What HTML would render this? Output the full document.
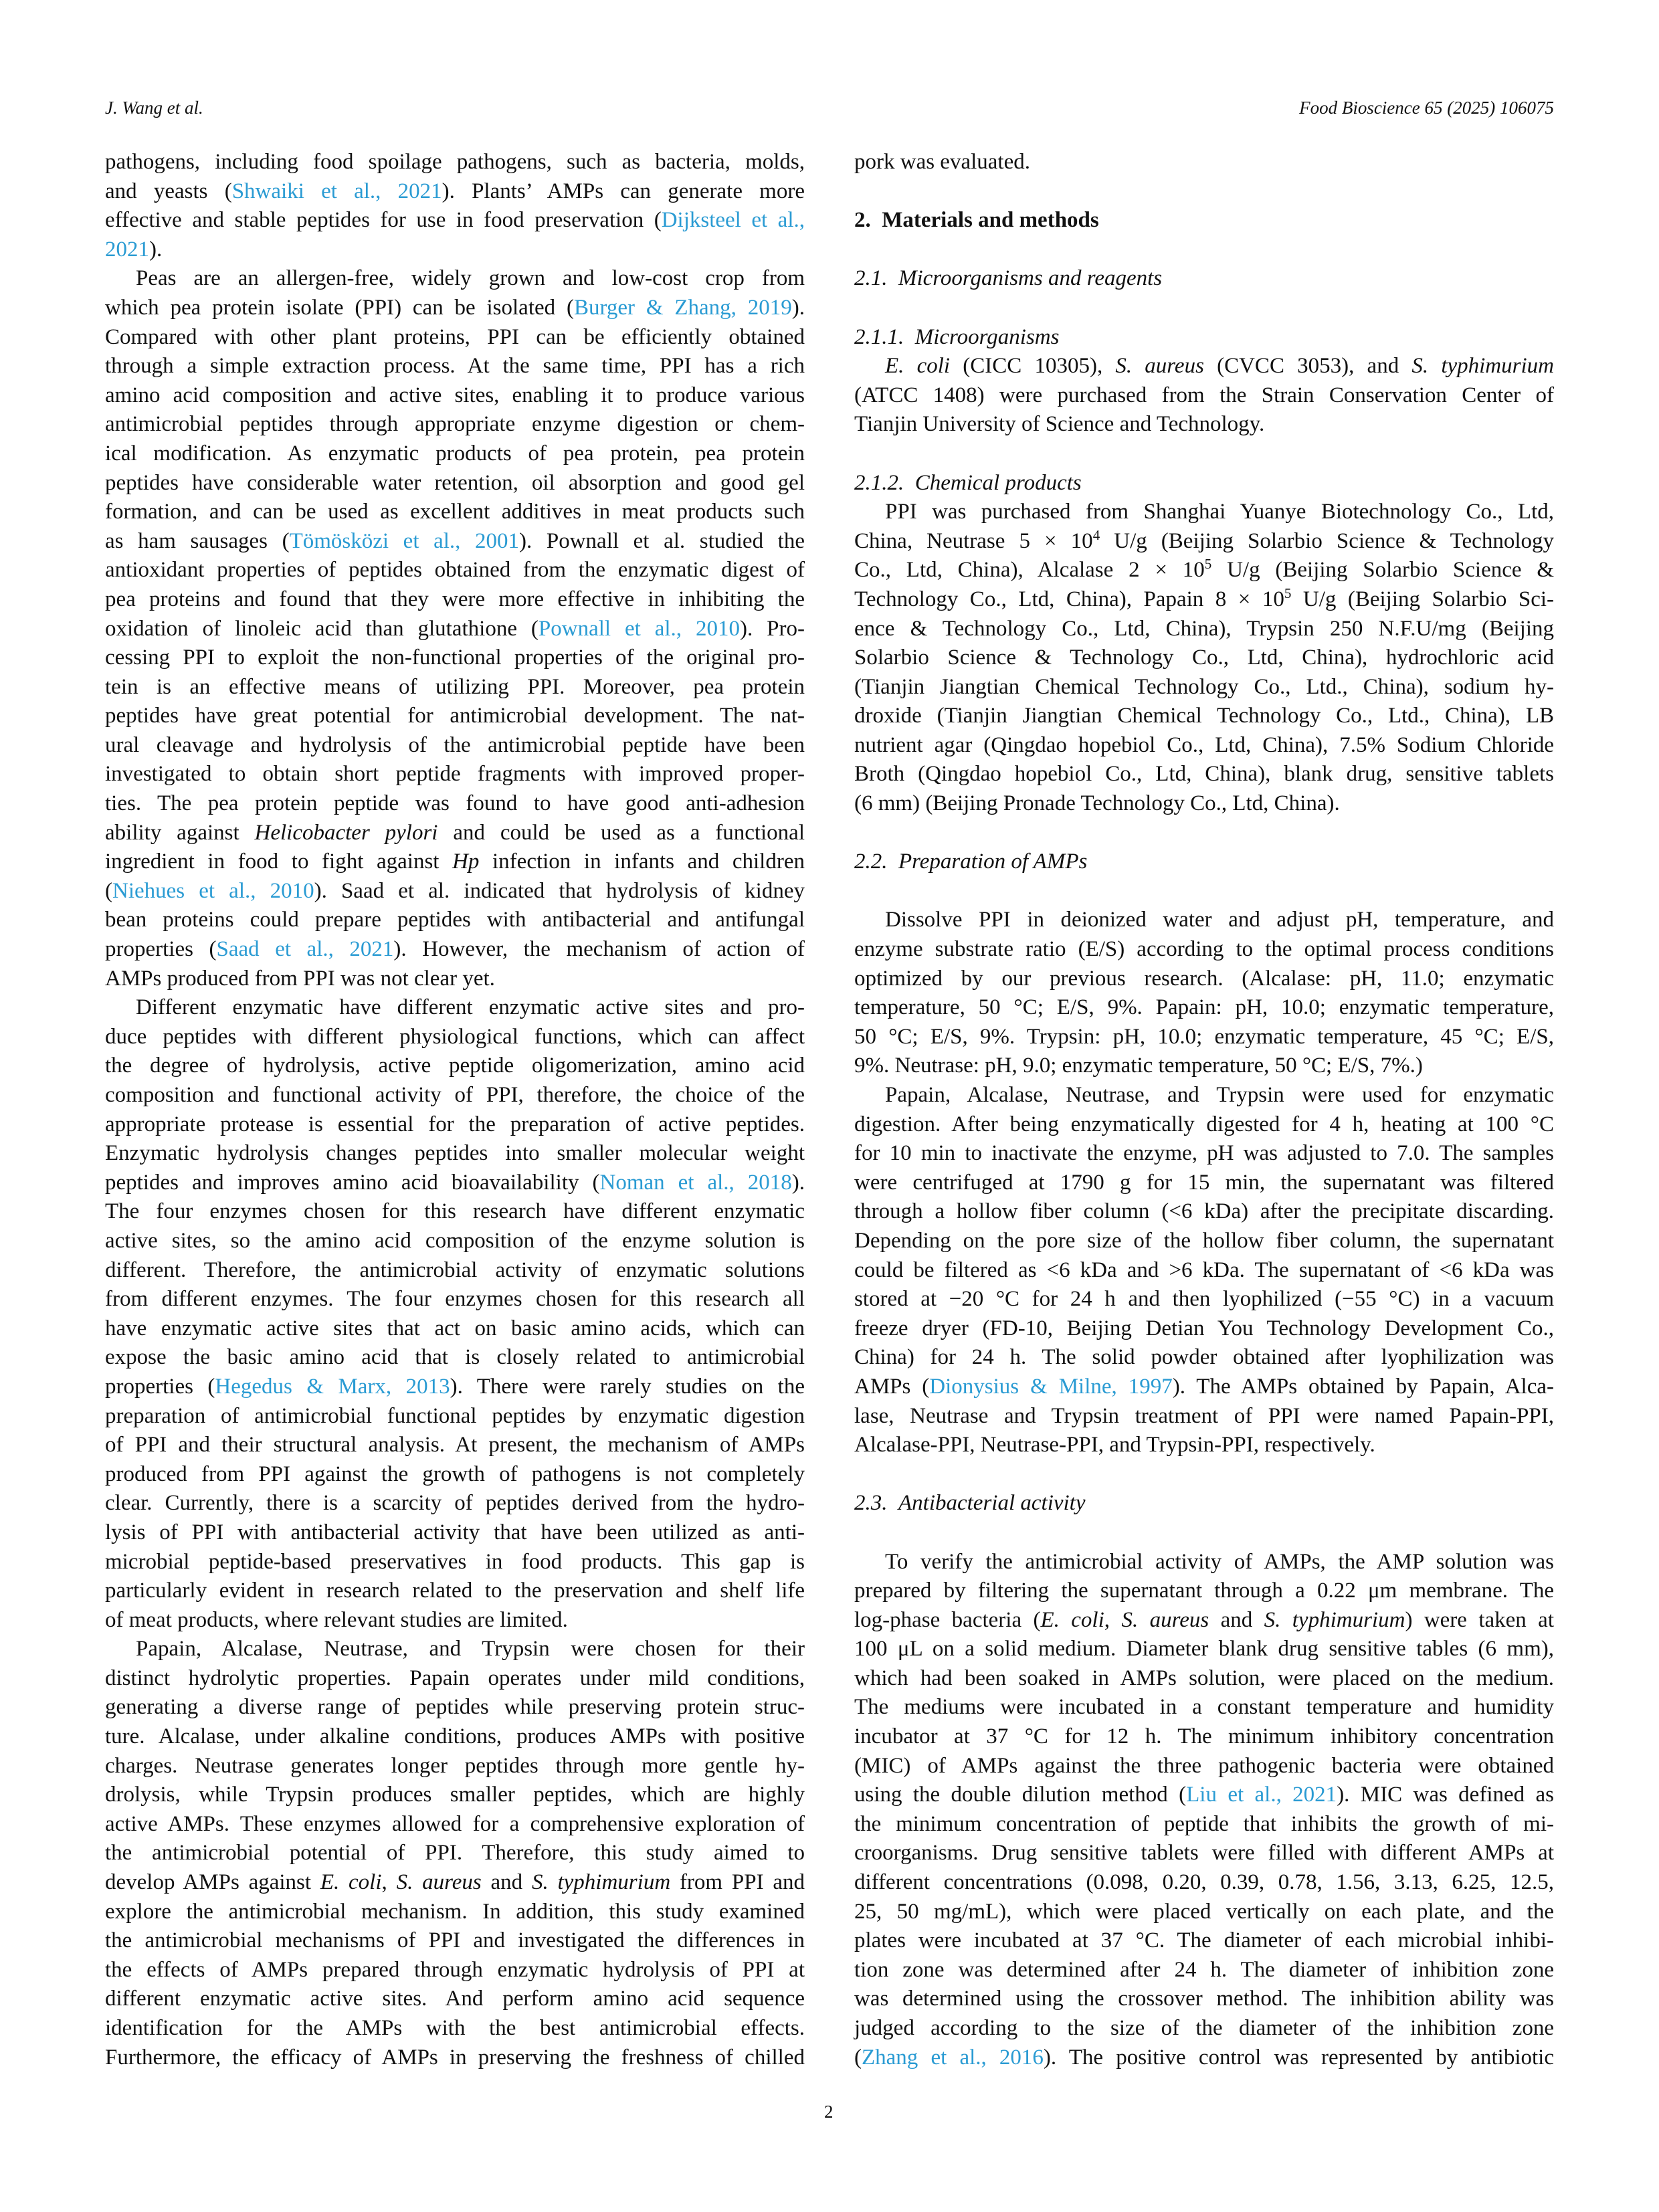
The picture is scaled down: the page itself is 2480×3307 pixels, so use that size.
<!DOCTYPE html>
<html><head><meta charset="utf-8"><style>
html,body{margin:0;padding:0;background:#fff;}
body{width:2480px;height:3307px;position:relative;overflow:hidden;font-family:"Liberation Serif",serif;color:#111;}
.hd{position:absolute;top:146px;font-size:27px;font-style:italic;font-family:"Liberation Serif",serif;}
.col{position:absolute;top:221px;width:1046px;font-size:33px;line-height:43.6px;}
.col div{height:43.6px;white-space:nowrap;text-align:justify;text-align-last:justify;}
.col div.e{text-align:left;text-align-last:left;}
.col div.i{padding-left:46px;}
a{color:#2a9bd3;text-decoration:none;}
.h{font-weight:bold;}
.it{font-style:italic;}
sup{font-size:21px;line-height:0;vertical-align:12px;}
</style></head><body>
<div class="hd" style="left:157px">J. Wang et al.</div>
<div class="hd" style="right:157px">Food Bioscience 65 (2025) 106075</div>

<div class="col" style="left:157px">
<div>pathogens, including food spoilage pathogens, such as bacteria, molds,</div>
<div>and yeasts (<a>Shwaiki et al., 2021</a>). Plants’ AMPs can generate more</div>
<div>effective and stable peptides for use in food preservation (<a>Dijksteel et al.,</a></div>
<div class="e"><a>2021</a>).</div>
<div class="i">Peas are an allergen-free, widely grown and low-cost crop from</div>
<div>which pea protein isolate (PPI) can be isolated (<a>Burger &amp; Zhang, 2019</a>).</div>
<div>Compared with other plant proteins, PPI can be efficiently obtained</div>
<div>through a simple extraction process. At the same time, PPI has a rich</div>
<div>amino acid composition and active sites, enabling it to produce various</div>
<div>antimicrobial peptides through appropriate enzyme digestion or chem-</div>
<div>ical modification. As enzymatic products of pea protein, pea protein</div>
<div>peptides have considerable water retention, oil absorption and good gel</div>
<div>formation, and can be used as excellent additives in meat products such</div>
<div>as ham sausages (<a>Tömösközi et al., 2001</a>). Pownall et al. studied the</div>
<div>antioxidant properties of peptides obtained from the enzymatic digest of</div>
<div>pea proteins and found that they were more effective in inhibiting the</div>
<div>oxidation of linoleic acid than glutathione (<a>Pownall et al., 2010</a>). Pro-</div>
<div>cessing PPI to exploit the non-functional properties of the original pro-</div>
<div>tein is an effective means of utilizing PPI. Moreover, pea protein</div>
<div>peptides have great potential for antimicrobial development. The nat-</div>
<div>ural cleavage and hydrolysis of the antimicrobial peptide have been</div>
<div>investigated to obtain short peptide fragments with improved proper-</div>
<div>ties. The pea protein peptide was found to have good anti-adhesion</div>
<div>ability against <i>Helicobacter pylori</i> and could be used as a functional</div>
<div>ingredient in food to fight against <i>Hp</i> infection in infants and children</div>
<div>(<a>Niehues et al., 2010</a>). Saad et al. indicated that hydrolysis of kidney</div>
<div>bean proteins could prepare peptides with antibacterial and antifungal</div>
<div>properties (<a>Saad et al., 2021</a>). However, the mechanism of action of</div>
<div class="e">AMPs produced from PPI was not clear yet.</div>
<div class="i">Different enzymatic have different enzymatic active sites and pro-</div>
<div>duce peptides with different physiological functions, which can affect</div>
<div>the degree of hydrolysis, active peptide oligomerization, amino acid</div>
<div>composition and functional activity of PPI, therefore, the choice of the</div>
<div>appropriate protease is essential for the preparation of active peptides.</div>
<div>Enzymatic hydrolysis changes peptides into smaller molecular weight</div>
<div>peptides and improves amino acid bioavailability (<a>Noman et al., 2018</a>).</div>
<div>The four enzymes chosen for this research have different enzymatic</div>
<div>active sites, so the amino acid composition of the enzyme solution is</div>
<div>different. Therefore, the antimicrobial activity of enzymatic solutions</div>
<div>from different enzymes. The four enzymes chosen for this research all</div>
<div>have enzymatic active sites that act on basic amino acids, which can</div>
<div>expose the basic amino acid that is closely related to antimicrobial</div>
<div>properties (<a>Hegedus &amp; Marx, 2013</a>). There were rarely studies on the</div>
<div>preparation of antimicrobial functional peptides by enzymatic digestion</div>
<div>of PPI and their structural analysis. At present, the mechanism of AMPs</div>
<div>produced from PPI against the growth of pathogens is not completely</div>
<div>clear. Currently, there is a scarcity of peptides derived from the hydro-</div>
<div>lysis of PPI with antibacterial activity that have been utilized as anti-</div>
<div>microbial peptide-based preservatives in food products. This gap is</div>
<div>particularly evident in research related to the preservation and shelf life</div>
<div class="e">of meat products, where relevant studies are limited.</div>
<div class="i">Papain, Alcalase, Neutrase, and Trypsin were chosen for their</div>
<div>distinct hydrolytic properties. Papain operates under mild conditions,</div>
<div>generating a diverse range of peptides while preserving protein struc-</div>
<div>ture. Alcalase, under alkaline conditions, produces AMPs with positive</div>
<div>charges. Neutrase generates longer peptides through more gentle hy-</div>
<div>drolysis, while Trypsin produces smaller peptides, which are highly</div>
<div>active AMPs. These enzymes allowed for a comprehensive exploration of</div>
<div>the antimicrobial potential of PPI. Therefore, this study aimed to</div>
<div>develop AMPs against <i>E. coli</i>, <i>S. aureus</i> and <i>S. typhimurium</i> from PPI and</div>
<div>explore the antimicrobial mechanism. In addition, this study examined</div>
<div>the antimicrobial mechanisms of PPI and investigated the differences in</div>
<div>the effects of AMPs prepared through enzymatic hydrolysis of PPI at</div>
<div>different enzymatic active sites. And perform amino acid sequence</div>
<div>identification for the AMPs with the best antimicrobial effects.</div>
<div>Furthermore, the efficacy of AMPs in preserving the freshness of chilled</div>
</div>

<div class="col" style="left:1277px">
<div class="e">pork was evaluated.</div>
<div class="e"></div>
<div class="e h">2.&nbsp;&nbsp;Materials and methods</div>
<div class="e"></div>
<div class="e it">2.1.&nbsp;&nbsp;Microorganisms and reagents</div>
<div class="e"></div>
<div class="e it">2.1.1.&nbsp;&nbsp;Microorganisms</div>
<div class="i"><i>E. coli</i> (CICC 10305), <i>S. aureus</i> (CVCC 3053), and <i>S. typhimurium</i></div>
<div>(ATCC 1408) were purchased from the Strain Conservation Center of</div>
<div class="e">Tianjin University of Science and Technology.</div>
<div class="e"></div>
<div class="e it">2.1.2.&nbsp;&nbsp;Chemical products</div>
<div class="i">PPI was purchased from Shanghai Yuanye Biotechnology Co., Ltd,</div>
<div>China, Neutrase 5 × 10<sup>4</sup> U/g (Beijing Solarbio Science &amp; Technology</div>
<div>Co., Ltd, China), Alcalase 2 × 10<sup>5</sup> U/g (Beijing Solarbio Science &amp;</div>
<div>Technology Co., Ltd, China), Papain 8 × 10<sup>5</sup> U/g (Beijing Solarbio Sci-</div>
<div>ence &amp; Technology Co., Ltd, China), Trypsin 250 N.F.U/mg (Beijing</div>
<div>Solarbio Science &amp; Technology Co., Ltd, China), hydrochloric acid</div>
<div>(Tianjin Jiangtian Chemical Technology Co., Ltd., China), sodium hy-</div>
<div>droxide (Tianjin Jiangtian Chemical Technology Co., Ltd., China), LB</div>
<div>nutrient agar (Qingdao hopebiol Co., Ltd, China), 7.5% Sodium Chloride</div>
<div>Broth (Qingdao hopebiol Co., Ltd, China), blank drug, sensitive tablets</div>
<div class="e">(6 mm) (Beijing Pronade Technology Co., Ltd, China).</div>
<div class="e"></div>
<div class="e it">2.2.&nbsp;&nbsp;Preparation of AMPs</div>
<div class="e"></div>
<div class="i">Dissolve PPI in deionized water and adjust pH, temperature, and</div>
<div>enzyme substrate ratio (E/S) according to the optimal process conditions</div>
<div>optimized by our previous research. (Alcalase: pH, 11.0; enzymatic</div>
<div>temperature, 50 °C; E/S, 9%. Papain: pH, 10.0; enzymatic temperature,</div>
<div>50 °C; E/S, 9%. Trypsin: pH, 10.0; enzymatic temperature, 45 °C; E/S,</div>
<div class="e">9%. Neutrase: pH, 9.0; enzymatic temperature, 50 °C; E/S, 7%.)</div>
<div class="i">Papain, Alcalase, Neutrase, and Trypsin were used for enzymatic</div>
<div>digestion. After being enzymatically digested for 4 h, heating at 100 °C</div>
<div>for 10 min to inactivate the enzyme, pH was adjusted to 7.0. The samples</div>
<div>were centrifuged at 1790 g for 15 min, the supernatant was filtered</div>
<div>through a hollow fiber column (&lt;6 kDa) after the precipitate discarding.</div>
<div>Depending on the pore size of the hollow fiber column, the supernatant</div>
<div>could be filtered as &lt;6 kDa and &gt;6 kDa. The supernatant of &lt;6 kDa was</div>
<div>stored at −20 °C for 24 h and then lyophilized (−55 °C) in a vacuum</div>
<div>freeze dryer (FD-10, Beijing Detian You Technology Development Co.,</div>
<div>China) for 24 h. The solid powder obtained after lyophilization was</div>
<div>AMPs (<a>Dionysius &amp; Milne, 1997</a>). The AMPs obtained by Papain, Alca-</div>
<div>lase, Neutrase and Trypsin treatment of PPI were named Papain-PPI,</div>
<div class="e">Alcalase-PPI, Neutrase-PPI, and Trypsin-PPI, respectively.</div>
<div class="e"></div>
<div class="e it">2.3.&nbsp;&nbsp;Antibacterial activity</div>
<div class="e"></div>
<div class="i">To verify the antimicrobial activity of AMPs, the AMP solution was</div>
<div>prepared by filtering the supernatant through a 0.22 μm membrane. The</div>
<div>log-phase bacteria (<i>E. coli</i>, <i>S. aureus</i> and <i>S. typhimurium</i>) were taken at</div>
<div>100 μL on a solid medium. Diameter blank drug sensitive tables (6 mm),</div>
<div>which had been soaked in AMPs solution, were placed on the medium.</div>
<div>The mediums were incubated in a constant temperature and humidity</div>
<div>incubator at 37 °C for 12 h. The minimum inhibitory concentration</div>
<div>(MIC) of AMPs against the three pathogenic bacteria were obtained</div>
<div>using the double dilution method (<a>Liu et al., 2021</a>). MIC was defined as</div>
<div>the minimum concentration of peptide that inhibits the growth of mi-</div>
<div>croorganisms. Drug sensitive tablets were filled with different AMPs at</div>
<div>different concentrations (0.098, 0.20, 0.39, 0.78, 1.56, 3.13, 6.25, 12.5,</div>
<div>25, 50 mg/mL), which were placed vertically on each plate, and the</div>
<div>plates were incubated at 37 °C. The diameter of each microbial inhibi-</div>
<div>tion zone was determined after 24 h. The diameter of inhibition zone</div>
<div>was determined using the crossover method. The inhibition ability was</div>
<div>judged according to the size of the diameter of the inhibition zone</div>
<div>(<a>Zhang et al., 2016</a>). The positive control was represented by antibiotic</div>
</div>

<div style="position:absolute;left:1232px;top:3142px;font-size:27px;">2</div>
</body></html>
